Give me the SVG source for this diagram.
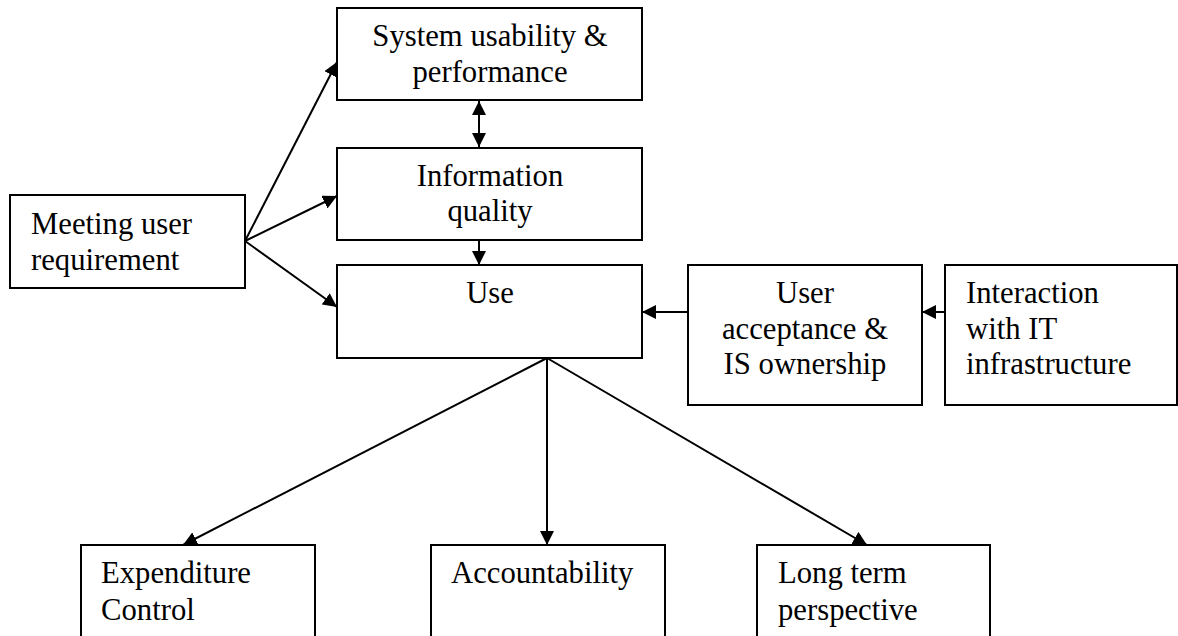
<svg xmlns="http://www.w3.org/2000/svg" width="1178" height="636" viewBox="0 0 1178 636">
  <style>
    .box { fill: #ffffff; stroke: #000000; stroke-width: 2; }
    .lbl { font-family: "Liberation Serif", "Times New Roman", serif; font-size: 30.7px; fill: #000000; }
    .mid { text-anchor: middle; }
    .wire { fill: none; stroke: #000000; stroke-width: 2; }
  </style>
  <defs>
    <marker id="head" viewBox="0 0 14 14" refX="14" refY="7" markerWidth="14" markerHeight="14" markerUnits="userSpaceOnUse" orient="auto-start-reverse">
      <path d="M0,0 L14,7 L0,14 Z" fill="#000000"/>
    </marker>
  </defs>

  <rect width="1178" height="636" fill="#ffffff"/>

  <!-- connectors -->
  <g id="connectors">
    <line class="wire" x1="245" y1="241" x2="337" y2="62" marker-end="url(#head)"/>
    <line class="wire" x1="245" y1="241" x2="337" y2="196" marker-end="url(#head)"/>
    <line class="wire" x1="245" y1="241" x2="337" y2="307" marker-end="url(#head)"/>
    <line class="wire" x1="479" y1="101" x2="479" y2="147" marker-start="url(#head)" marker-end="url(#head)"/>
    <line class="wire" x1="479" y1="241" x2="479" y2="265" marker-end="url(#head)"/>
    <line class="wire" x1="688" y1="312" x2="642" y2="312" marker-end="url(#head)"/>
    <line class="wire" x1="945" y1="312" x2="922" y2="312" marker-end="url(#head)"/>
    <line class="wire" x1="547" y1="358" x2="183" y2="545" marker-end="url(#head)"/>
    <line class="wire" x1="547" y1="358" x2="547" y2="545" marker-end="url(#head)"/>
    <line class="wire" x1="547" y1="358" x2="867" y2="545" marker-end="url(#head)"/>
  </g>

  <!-- nodes -->
  <g id="system-usability">
    <rect class="box" x="337" y="8" width="305" height="92"/>
    <text class="lbl mid" x="490" y="46">System usability &amp;</text>
    <text class="lbl mid" x="490" y="82">performance</text>
  </g>

  <g id="information-quality">
    <rect class="box" x="337" y="148" width="305" height="92"/>
    <text class="lbl mid" x="490" y="186">Information</text>
    <text class="lbl mid" x="490" y="221">quality</text>
  </g>

  <g id="use">
    <rect class="box" x="337" y="265" width="305" height="93"/>
    <text class="lbl mid" x="490" y="303">Use</text>
  </g>

  <g id="meeting-user-requirement">
    <rect class="box" x="10" y="195" width="235" height="93"/>
    <text class="lbl" x="31" y="234">Meeting user</text>
    <text class="lbl" x="31" y="270">requirement</text>
  </g>

  <g id="user-acceptance">
    <rect class="box" x="688" y="265" width="234" height="140"/>
    <text class="lbl mid" x="805" y="303">User</text>
    <text class="lbl mid" x="805" y="339">acceptance &amp;</text>
    <text class="lbl mid" x="805" y="374">IS ownership</text>
  </g>

  <g id="it-infrastructure">
    <rect class="box" x="945" y="265" width="232" height="140"/>
    <text class="lbl" x="966" y="303">Interaction</text>
    <text class="lbl" x="966" y="339">with IT</text>
    <text class="lbl" x="966" y="374">infrastructure</text>
  </g>

  <g id="expenditure-control">
    <rect class="box" x="81" y="545" width="234" height="120"/>
    <text class="lbl" x="101" y="583">Expenditure</text>
    <text class="lbl" x="101" y="620">Control</text>
  </g>

  <g id="accountability">
    <rect class="box" x="431" y="545" width="234" height="120"/>
    <text class="lbl" x="451" y="583">Accountability</text>
  </g>

  <g id="long-term-perspective">
    <rect class="box" x="757" y="545" width="233" height="120"/>
    <text class="lbl" x="778" y="583">Long term</text>
    <text class="lbl" x="778" y="620">perspective</text>
  </g>
</svg>
